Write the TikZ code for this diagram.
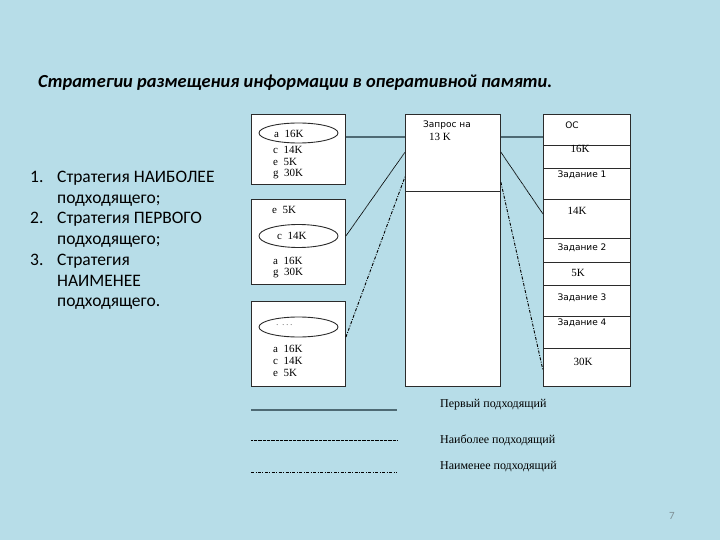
\documentclass[tikz,border=0pt]{standalone}
\usepackage{fontspec}
\setmainfont{Liberation Serif}
\newfontfamily\calib{Carlito}
\newfontfamily\dvsans{DejaVu Sans}
\usetikzlibrary{calc, shapes.geometric}
\definecolor{cbg}{HTML}{B7DDE8}
\definecolor{cdark}{HTML}{2B2B2B}
\definecolor{cslate}{HTML}{4E6A74}
\definecolor{cgrey}{HTML}{7F9096}
\tikzset{
  every picture/.style={x=1pt, y=-1pt},
  membox/.style={draw=cdark, fill=white, line width=0.9pt, inner sep=0pt, anchor=north west},
  part/.style={draw=cdark, line width=0.8pt},
  item/.style={font=\fontsize{11}{12}\selectfont, inner sep=0pt, anchor=west},
  sans/.style={font=\dvsans\fontsize{9}{11}\selectfont, inner sep=0pt},
  pick/.style={ellipse, draw=cdark, line width=0.9pt, minimum width=79pt, minimum height=20pt, inner sep=0pt},
  first/.style={draw=cslate, line width=1.6pt},
  best/.style={draw=black, line width=0.8pt, dash pattern=on 0.8pt off 0.5pt},
  worst/.style={draw=black, line width=0.9pt, dash pattern=on 3pt off 1.5pt on 0.9pt off 1.5pt},
  legend/.style={font=\fontsize{12}{14}\selectfont, inner sep=0pt, anchor=west},
}

\begin{document}
\begin{tikzpicture}
  \path[use as bounding box, fill=cbg] (0,0) rectangle (720,540);

  \node[font=\calib\bfseries\itshape\fontsize{18.4}{22}\selectfont, anchor=west, inner sep=0pt] (title) at (38,83)
    {Стратегии размещения информации в оперативной памяти.};
  \node[font=\calib\fontsize{17.5}{20.7}\selectfont, anchor=north west, inner sep=0pt, align=left] (list) at (30,171)
    {\makebox[27pt][l]{1.}Стратегия НАИБОЛЕЕ\\ \hspace*{27pt}подходящего;\\
     \makebox[27pt][l]{2.}Стратегия ПЕРВОГО\\ \hspace*{27pt}подходящего;\\
     \makebox[27pt][l]{3.}Стратегия\\ \hspace*{27pt}НАИМЕНЕЕ\\ \hspace*{27pt}подходящего.};

  \node[membox, minimum width=94pt, minimum height=70pt] (b1) at (251,114) {};
  \node[membox, minimum width=94pt, minimum height=85pt] (b2) at (251,199) {};
  \node[membox, minimum width=94pt, minimum height=85pt] (b3) at (251,301) {};
  \node[membox, minimum width=95pt, minimum height=272pt] (mem) at (405,114) {};
  \node[membox, minimum width=87pt, minimum height=272pt] (os) at (543,114) {};

  \node[pick] (e1) at (298.5,133) {};
  \node[item] (a1) at (274,134) {a\ \ 16K};
  \node[item] (c1) at (273,150) {c\ \ 14K};
  \node[item] (g1) at (273,162) {e\ \ 5K};
  \node[item] (h1) at (273,174) {g\ \ 30K};

  \node[item] (e2t) at (272,210) {e\ \ 5K};
  \node[pick, minimum height=23pt] (e2) at (298.5,236) {};
  \node[item] (c2) at (277,236) {c\ \ 14K};
  \node[item] (a2) at (273,261) {a\ \ 16K};
  \node[item] (g2) at (273,273) {g\ \ 30K};

  \node[pick] (e3) at (298.5,327) {};
  \node[item, font=\fontsize{7}{8}\selectfont] (d3) at (276,326) {·\ \ · · ·};
  \node[item] (a3) at (273,349) {a\ \ 16K};
  \node[item] (c3) at (273,361) {c\ \ 14K};
  \node[item] (g3) at (273,373) {e\ \ 5K};

  \node[sans, anchor=west] (q1) at (423,125) {Запрос на};
  \node[item] (q2) at (429,137) {13 K};
  \draw[part] (mem.west |- 0,191) -- (mem.east |- 0,191);

  \foreach \y in {145,168,199,238,262,285,316,348}
    \draw[part] (os.west |- 0,\y) -- (os.east |- 0,\y);
  \node[sans] (osn) at (572,125) {ОС};
  \node[item, anchor=center] (k16) at (580,149) {16K};
  \node[sans] (z1) at (582,175) {Задание 1};
  \node[item, anchor=center] (k14) at (577,211) {14K};
  \node[sans] (z2) at (582,248) {Задание 2};
  \node[item, anchor=center] (k5) at (578,273) {5K};
  \node[sans] (z3) at (582,298) {Задание 3};
  \node[sans] (z4) at (582,323) {Задание 4};
  \node[item, anchor=center] (k30) at (583,362) {30K};

  \draw[first] (q2 -| b1.east) -- (q2 -| mem.west);
  \draw[first] (q2 -| mem.east) -- (q2 -| os.west);
  \draw[best] (c2 -| b2.east) -- ($(mem.north west)!0.14!(mem.south west)$);
  \draw[best] ($(mem.north east)!0.14!(mem.south east)$) -- ([yshift=-3pt]k14.west -| os.west);
  \draw[worst] ($(b3.north east)!0.42!(b3.south east)$) -- ($(mem.north west)!0.23!(mem.south west)$);
  \draw[worst] ($(mem.north east)!0.25!(mem.south east)$) -- ($(os.north west)!0.94!(os.south west)$);

  \coordinate (s1) at (251,410);
  \coordinate (s2) at (251,440);
  \coordinate (s3) at (251,472);
  \draw[first] (s1) -- ++(146,0);
  \draw[best] (s2) -- ++(146,0);
  \draw[worst] (s3) -- ++(146,0);
  \node[legend] (l1) at (440,405) {Первый подходящий};
  \node[legend] (l2) at (440,440) {Наиболее подходящий};
  \node[legend] (l3) at (440,467) {Наименее подходящий};

  \node[font=\calib\fontsize{11}{13}\selectfont, text=cgrey] (pnum) at (672,516) {7};
\end{tikzpicture}
\end{document}
